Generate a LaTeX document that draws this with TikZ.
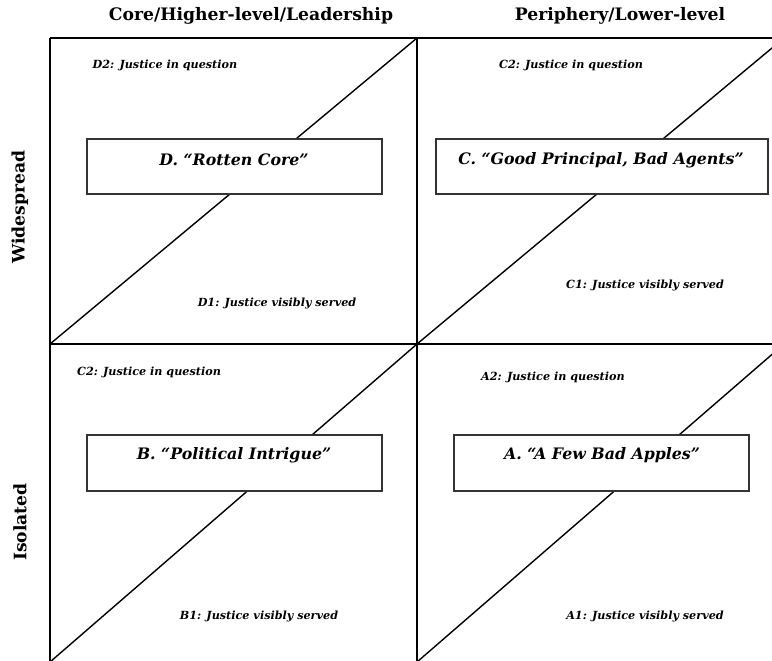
\documentclass[tikz,border=0pt]{standalone}
\usepackage{fontspec}
\setmainfont{DejaVu Serif}
\begin{document}
\begin{tikzpicture}[x=0.5pt, y=-0.5pt,
        grid/.style={line width=0.8pt},
        diag/.style={line width=0.7pt},
        head/.style={font=\fontsize{8.6}{10}\selectfont\bfseries, inner sep=0pt},
        title/.style={font=\fontsize{7.9}{9}\selectfont\bfseries\itshape, inner sep=0pt},
        verdict/.style={font=\fontsize{5.6}{6}\selectfont\bfseries\itshape, inner sep=0pt}]
        \useasboundingbox (0, 0) rectangle (772, 660);
        \clip (0, 0) rectangle (772, 660);

        % quadrant grid and the diagonals
        \foreach \y in {38, 344} {
            \draw[grid] (50, \y) -- (784, \y);
        }
        \foreach \x in {50, 417, 784} {
            \draw[grid] (\x, 38) -- (\x, 662);
        }
        \foreach \x in {50, 417} {
            \draw[diag] (\x, 344) -- ++(367, -306);
            \draw[diag] (\x, 662) -- ++(367, -318);
        }

        % axis headings
        \node[head] (core) at (251, 16) {Core/Higher-level/Leadership};
        \node[head] (periph) at (620, 16) {Periphery/Lower-level};
        \node[head, rotate=90] (wide) at (20, 207) {Widespread};
        \node[head, rotate=90] (iso) at (20, 522) {Isolated};

        % scenario boxes
        \draw[black!80, fill=white, line width=0.6pt] (87, 139) rectangle (382, 194);
        \draw[black!80, fill=white, line width=0.6pt] (436, 139) rectangle (768, 194);
        \draw[black!80, fill=white, line width=0.6pt] (87, 435) rectangle (382, 491);
        \draw[black!80, fill=white, line width=0.6pt] (454, 435) rectangle (749, 491);
        \node[title] (rotten) at (234, 160) {D. “Rotten Core”};
        \node[title] (agents) at (601, 160) {C. “Good Principal, Bad Agents”};
        \node[title] (intrigue) at (234, 455) {B. “Political Intrigue”};
        \node[title] (apples) at (602, 455) {A. “A Few Bad Apples”};

        % justice labels
        \node[verdict] (d2) at (165, 65) {D2: Justice in question};
        \node[verdict] (d1) at (277, 303) {D1: Justice visibly served};
        \node[verdict] (c2) at (571, 65) {C2: Justice in question};
        \node[verdict] (c1) at (645, 285) {C1: Justice visibly served};
        \node[verdict] (b2) at (149, 372) {C2: Justice in question};
        \node[verdict] (b1) at (259, 616) {B1: Justice visibly served};
        \node[verdict] (a2) at (553, 377) {A2: Justice in question};
        \node[verdict] (a1) at (645, 616) {A1: Justice visibly served};
    \end{tikzpicture}
\end{document}
